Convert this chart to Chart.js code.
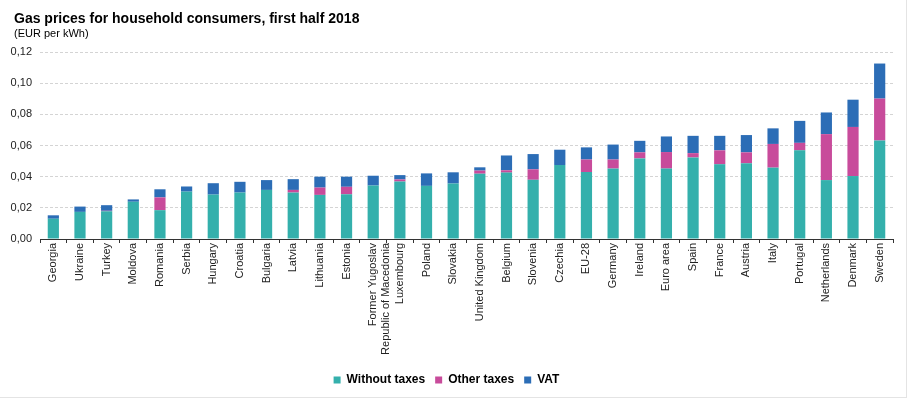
<!DOCTYPE html>
<html>
<head>
<meta charset="utf-8">
<script src="https://cdn.jsdelivr.net/npm/chart.js@4"></script>
<style>
  html, body { margin: 0; padding: 0; background: #fff; }
  #wrap {
    position: relative;
    width: 906px; height: 397px;
    border-right: 1px solid #e4e4e4;
    border-bottom: 1px solid #e4e4e4;
    font-family: 'Liberation Sans', Arial, sans-serif;
    color: #000;
  }
  #chart { position: absolute; left: 0; top: 0; }
  .title { position: absolute; left: 14px; top: 10px; font-size: 14px; line-height: 16px; font-weight: bold; }
  .subtitle { position: absolute; left: 14px; top: 27px; font-size: 11px; line-height: 13px; }
</style>
</head>
<body>
<div id="wrap">
  <canvas id="chart" width="906" height="397"></canvas>
  <div class="title">Gas prices for household consumers, first half 2018</div>
  <div class="subtitle">(EUR per kWh)</div>
</div>
<script>
const categories = ['Georgia', 'Ukraine', 'Turkey', 'Moldova', 'Romania', 'Serbia', 'Hungary', 'Croatia',
    'Bulgaria', 'Latvia', 'Lithuania', 'Estonia', ['Former Yugoslav', 'Republic of Macedonia'], 'Luxembourg',
    'Poland', 'Slovakia', 'United Kingdom', 'Belgium', 'Slovenia', 'Czechia', 'EU-28', 'Germany', 'Ireland',
    'Euro area', 'Spain', 'France', 'Austria', 'Italy', 'Portugal', 'Netherlands', 'Denmark', 'Sweden'];

const withoutTaxes = [0.0130, 0.0174, 0.0178, 0.0239, 0.0185, 0.0304, 0.0285, 0.0298, 0.0315, 0.0298, 0.0283,
    0.0287, 0.0343, 0.0369, 0.0341, 0.0356, 0.0419, 0.0426, 0.0380, 0.0475, 0.0430, 0.0452, 0.0517, 0.0452,
    0.0523, 0.0480, 0.0486, 0.0458, 0.0569, 0.0378, 0.0404, 0.0632];
const otherTaxes = [0, 0, 0.0003, 0, 0.0082, 0, 0, 0, 0, 0.0017, 0.0047, 0.0048, 0, 0.0013, 0, 0, 0.0020,
    0.0015, 0.0067, 0, 0.0080, 0.0058, 0.0039, 0.0106, 0.0028, 0.0089, 0.0070, 0.0152, 0.0048, 0.0295,
    0.0315, 0.0269];
const vat = [0.0022, 0.0034, 0.0036, 0.0015, 0.0052, 0.0033, 0.0073, 0.0069, 0.0063, 0.0069, 0.0070, 0.0065,
    0.0063, 0.0028, 0.0080, 0.0072, 0.0021, 0.0095, 0.0098, 0.0098, 0.0078, 0.0096, 0.0074, 0.0100, 0.0111,
    0.0093, 0.0111, 0.0100, 0.0141, 0.0139, 0.0175, 0.0225];

const yTicks = [0, 0.02, 0.04, 0.06, 0.08, 0.10, 0.12];

const font = "'Liberation Sans', Arial, sans-serif";

const ctx = document.getElementById('chart').getContext('2d');

new Chart(ctx, {
    type: 'bar',
    data: {
        labels: categories,
        datasets: [
            { label: 'Without taxes', data: withoutTaxes, backgroundColor: '#34b0ac' },
            { label: 'Other taxes', data: otherTaxes, backgroundColor: '#c84b9b' },
            { label: 'VAT', data: vat, backgroundColor: '#2c6db6' }
        ]
    },
    options: {
        responsive: false,
        animation: false,
        datasets: {
            bar: { barPercentage: 0.42, categoryPercentage: 1 }
        },
        layout: { padding: { left: 0, right: 13, top: 52, bottom: 1 } },
        scales: {
            x: {
                stacked: true,
                offset: true,
                border: { color: '#333', width: 1 },
                grid: {
                    offset: true,
                    drawOnChartArea: false,
                    drawTicks: true,
                    tickLength: 4,
                    color: '#333'
                },
                ticks: {
                    minRotation: 90,
                    maxRotation: 90,
                    autoSkip: false,
                    padding: 0,
                    color: '#222',
                    font: { family: font, size: 11 }
                },
                afterFit: (scale) => { scale.height = 125; }
            },
            y: {
                stacked: true,
                min: 0,
                max: 0.12,
                border: { display: false, dash: [3, 2] },
                grid: {
                    color: '#d4d4d4',
                    drawTicks: false
                },
                afterBuildTicks: (scale) => {
                    scale.ticks = yTicks.map(v => ({ value: v }));
                },
                ticks: {
                    padding: 8,
                    color: '#222',
                    font: { family: font, size: 11 },
                    callback: (v) => v.toFixed(2).replace('.', ',')
                },
                afterFit: (scale) => { scale.width = 40; }
            }
        },
        plugins: {
            legend: {
                position: 'bottom',
                labels: {
                    boxWidth: 7,
                    boxHeight: 7,
                    color: '#000',
                    padding: 10,
                    font: { family: font, size: 12, weight: 'bold' }
                }
            },
            tooltip: { enabled: false }
        }
    }
});
</script>
</body>
</html>
